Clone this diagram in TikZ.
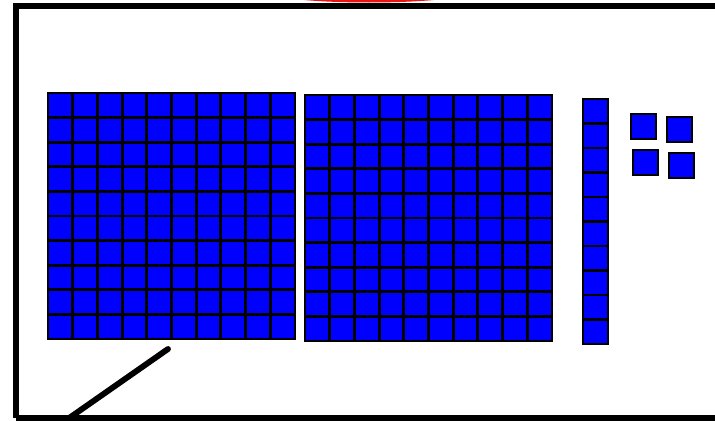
\documentclass[tikz,border=0pt]{standalone}
\usetikzlibrary{calc}
\definecolor{blockBlue}{RGB}{0,0,255}
\definecolor{lidRed}{RGB}{235,20,20}

\begin{document}
\begin{tikzpicture}[x=0.03cm,y=-0.03cm,
    cell/.style={draw=black,fill=blockBlue,line width=2.4pt},
    frame/.style={draw=black,line width=5.5pt},
    pointer/.style={draw=black,line width=5pt,line cap=round}
  ]
    \useasboundingbox (0,0) rectangle (715,421);
    \clip (0,0) rectangle (715,421);

    % red lid peeking in at the top
    \fill[lidRed] (369,-8) ellipse [x radius=100, y radius=10.5];

    % board
    \draw[frame] (16,418) -- (16,6) -- (740,6);
    \draw[frame] (16,418) -- (740,418);

    % two hundreds
    \foreach \i in {0,...,9}
      \foreach \j in {0,...,9}
        \draw[cell] ({48+24.7*\i},{93+24.6*\j}) rectangle ++(24.7,24.6);
    \foreach \i in {0,...,9}
      \foreach \j in {0,...,9}
        \draw[cell] ({305+24.7*\i},{95+24.6*\j}) rectangle ++(24.7,24.6);

    % one ten
    \foreach \j in {0,...,9}
      \draw[cell] (583,{99+24.5*\j}) rectangle ++(25,24.5);

    % four ones
    \draw[cell] (631,114) rectangle ++(25,25);
    \draw[cell] (667,117) rectangle ++(25,25);
    \draw[cell] (633,150) rectangle ++(25,25);
    \draw[cell] (669,153) rectangle ++(25,25);

    % stick
    \coordinate (stickFoot) at (62,423);
    \coordinate (stickTip) at (168,349);
    \draw[pointer] (stickFoot) -- (stickTip);
  \end{tikzpicture}
\end{document}
